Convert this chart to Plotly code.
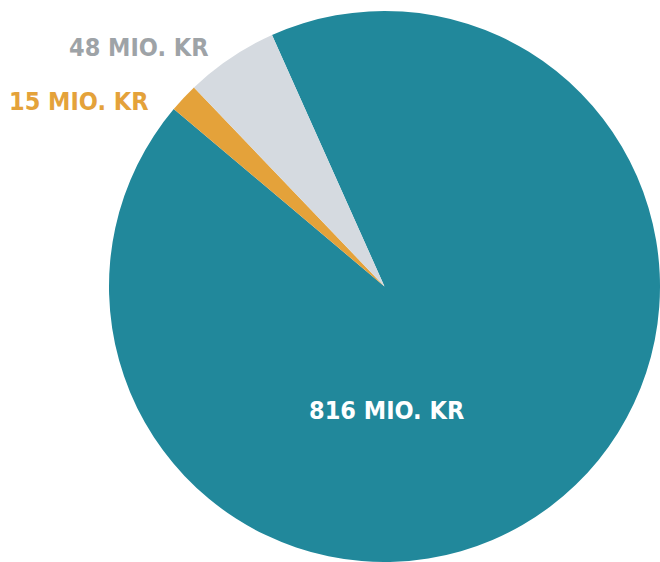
import plotly.graph_objects as go

categories = ["816 MIO. KR", "15 MIO. KR", "48 MIO. KR"]
values = [816, 15, 48]
colors = ["#21889B", "#E4A23A", "#D5DAE0"]
label_colors = ["#FFFFFF", "#E4A23A", "#9EA3A7"]
label_xy = [(387, 410), (79, 102), (139, 48)]

W, H = 660, 562
fig = go.Figure(go.Pie(
    labels=categories, values=values, sort=False, direction="clockwise",
    rotation=-24.1, marker=dict(colors=colors, line=dict(width=0)),
    textinfo="none", hoverinfo="label", showlegend=False,
    domain=dict(x=[109 / W, 1], y=[0, 551 / H]),
))
FONT = "Liberation Sans Narrow, DejaVu Sans Condensed, Arial Narrow, sans-serif"
for txt, c, (x, y) in zip(categories, label_colors, label_xy):
    fig.add_annotation(x=x / W, y=1 - y / H, xref="paper", yref="paper",
                       text=f"<b>{txt}</b>", showarrow=False,
                       font=dict(family=FONT, size=25, color=c),
                       xanchor="center", yanchor="middle")
fig.update_layout(width=W, height=H, margin=dict(l=0, r=0, t=0, b=0),
                  paper_bgcolor="white", plot_bgcolor="white")
fig.write_html("out.html", config={"displayModeBar": False},
               post_script="document.body.style.margin='0';document.body.style.overflow='hidden';")
